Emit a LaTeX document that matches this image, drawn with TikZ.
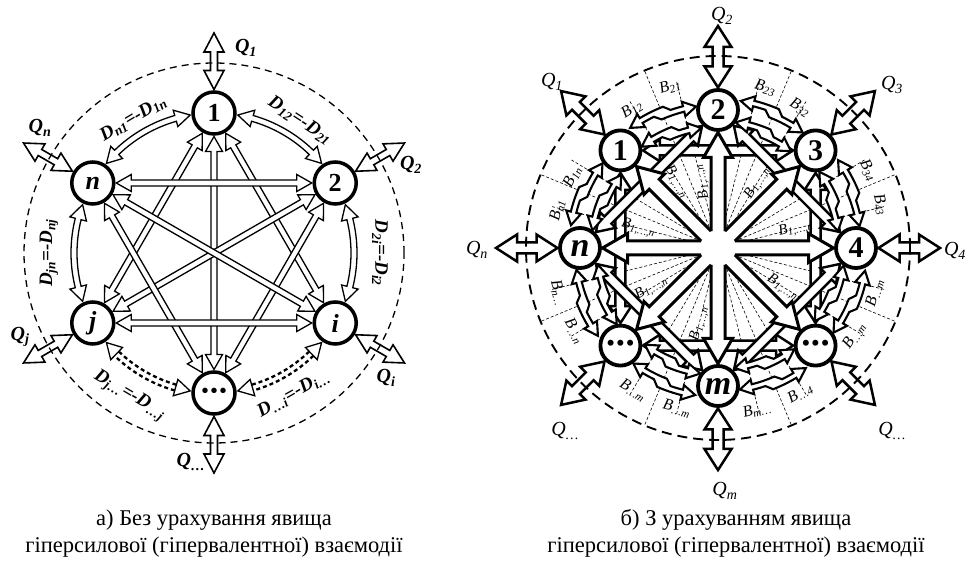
\documentclass[tikz,border=0pt]{standalone}
\usepackage{fontspec}
\setmainfont{Liberation Serif}
\usetikzlibrary{calc}
\pgfdeclarelayer{lzero}
\pgfdeclarelayer{lone}
\pgfdeclarelayer{ltwo}
\pgfdeclarelayer{lthree}
\pgfsetlayers{lzero,lone,ltwo,lthree,main}

\newcommand\Sb[1]{\textsubscript{#1}}
\newcommand\LDots{\textbullet\hspace{2pt}\textbullet\hspace{2pt}\textbullet}

% frame between two named points
\newcommand\ArrFrame[2]{%
  \path let \p1=(#1), \p2=(#2), \n1={atan2(\y2-\y1,\x2-\x1)}, \n2={veclen(\x2-\x1,\y2-\y1)} in
    \pgfextra{\xdef\HAx{\x1}\xdef\HAy{\y1}\xdef\HAang{\n1}\xdef\HAlen{\n2}};}

% double-headed straight hollow arrow
\newcommand\DArrow[8]{%
  \ArrFrame{#2}{#3}%
  \begin{scope}[shift={(\HAx,\HAy)}, rotate=\HAang]
    \pgfmathsetmacro\qa{#4}\pgfmathsetmacro\qb{\HAlen-(#5)}%
    \pgfmathsetmacro\qaa{\qa+#8}\pgfmathsetmacro\qbb{\qb-#8}%
    \draw[#1] (\qa pt,0pt) -- (\qaa pt,#7pt) -- (\qaa pt,#6pt) -- (\qbb pt,#6pt)
      -- (\qbb pt,#7pt) -- (\qb pt,0pt) -- (\qbb pt,-#7pt) -- (\qbb pt,-#6pt)
      -- (\qaa pt,-#6pt) -- (\qaa pt,-#7pt) -- cycle;
  \end{scope}}

% single-headed hollow arrow with open tail
\newcommand\SArrow[8]{%
  \ArrFrame{#2}{#3}%
  \begin{scope}[shift={(\HAx,\HAy)}, rotate=\HAang]
    \pgfmathsetmacro\qa{#4}\pgfmathsetmacro\qb{\HAlen-(#5)}%
    \pgfmathsetmacro\qbb{\qb-#8}%
    \draw[#1] (\qa pt,#6pt) -- (\qbb pt,#6pt) -- (\qbb pt,#7pt) -- (\qb pt,0pt)
      -- (\qbb pt,-#7pt) -- (\qbb pt,-#6pt) -- (\qa pt,-#6pt);
  \end{scope}}

% curved hollow double-headed arrow along a circle
\newcommand\CArrow[7]{%
  \pgfmathsetmacro\cs{sign(#4-(#3))}%
  \pgfmathsetmacro\cbA{#3+\cs*#7/#2*57.2958}%
  \pgfmathsetmacro\cbB{#4-\cs*#7/#2*57.2958}%
  \pgfmathsetmacro\cRo{#2+#5}\pgfmathsetmacro\cRi{#2-#5}%
  \pgfmathsetmacro\cHo{#2+#6}\pgfmathsetmacro\cHi{#2-#6}%
  \draw[#1] (#3:#2pt) -- (\cbA:\cHo pt) -- (\cbA:\cRo pt)
    arc[start angle=\cbA, end angle=\cbB, radius=\cRo pt]
    -- (\cbB:\cHo pt) -- (#4:#2pt) -- (\cbB:\cHi pt) -- (\cbB:\cRi pt)
    arc[start angle=\cbB, end angle=\cbA, radius=\cRi pt]
    -- (\cbA:\cHi pt) -- cycle;}

% same with dashed double shaft
\newcommand\DCArrow[7]{%
  \pgfmathsetmacro\cs{sign(#4-(#3))}%
  \pgfmathsetmacro\cbA{#3+\cs*#7/#2*57.2958}%
  \pgfmathsetmacro\cbB{#4-\cs*#7/#2*57.2958}%
  \pgfmathsetmacro\cRo{#2+#5}\pgfmathsetmacro\cRi{#2-#5}%
  \pgfmathsetmacro\cHo{#2+#6}\pgfmathsetmacro\cHi{#2-#6}%
  \draw[#1] (#3:#2pt) -- (\cbA:\cHo pt) -- (\cbA:\cHi pt) -- cycle;
  \draw[#1] (#4:#2pt) -- (\cbB:\cHo pt) -- (\cbB:\cHi pt) -- cycle;
  \draw[#1, fill=none, line width=2.3pt, dash pattern=on 4pt off 3pt]
    (\cbA:\cRo pt) arc[start angle=\cbA, end angle=\cbB, radius=\cRo pt];
  \draw[#1, fill=none, line width=2.3pt, dash pattern=on 4pt off 3pt]
    (\cbA:\cRi pt) arc[start angle=\cbA, end angle=\cbB, radius=\cRi pt];}

% curved double-headed arrow with a zigzag break in the middle
\newcommand\ZArrow[8]{%
  \pgfmathsetmacro\cs{sign(#4-(#3))}%
  \pgfmathsetmacro\zk{\cs*57.2958/#2}%
  \pgfmathsetmacro\cbA{#3+#7*\zk}%
  \pgfmathsetmacro\cbB{#4-#7*\zk}%
  \pgfmathsetmacro\zm{(#3+#4)/2}%
  \pgfmathsetmacro\zmP{\zm+#8*\zk}\pgfmathsetmacro\zmPP{\zm+3*#8*\zk}%
  \pgfmathsetmacro\zmM{\zm-#8*\zk}\pgfmathsetmacro\zmMM{\zm-3*#8*\zk}%
  \pgfmathsetmacro\rA{#2+#5}\pgfmathsetmacro\rB{#2-#5}%
  \pgfmathsetmacro\rAo{#2+2*#5}\pgfmathsetmacro\rBi{#2-2*#5}%
  \pgfmathsetmacro\rAh{\rA+#6}\pgfmathsetmacro\rAl{\rA-#6}%
  \pgfmathsetmacro\rBh{\rB+#6}\pgfmathsetmacro\rBl{\rB-#6}%
  \draw[#1] (#3:\rA pt) -- (\cbA:\rAh pt) -- (\cbA:\rAo pt)
    arc[start angle=\cbA, end angle=\zmP, radius=\rAo pt]
    -- (\zmPP:#2pt) arc[start angle=\zmPP, end angle=\cbB, radius=#2pt]
    -- (\cbB:\rBh pt) -- (#4:\rB pt) -- (\cbB:\rBl pt) -- (\cbB:\rBi pt)
    arc[start angle=\cbB, end angle=\zmM, radius=\rBi pt]
    -- (\zmMM:#2pt) arc[start angle=\zmMM, end angle=\cbA, radius=#2pt]
    -- (\cbA:\rAl pt) -- cycle;}

\tikzset{
 la/.style={draw, line width=1.3pt, fill=white, line join=miter},
 lqa/.style={draw, line width=1.6pt, fill=white, line join=miter},
 ln/.style={circle, draw, line width=3.5pt, minimum size=42pt, inner sep=0pt, fill=white,
   font=\fontsize{26}{26}\selectfont\bfseries},
 rn/.style={circle, draw, line width=3.8pt, minimum size=40pt, inner sep=0pt, fill=white,
   font=\fontsize{30}{30}\selectfont\bfseries},
 rarc/.style={draw, line width=2.1pt, fill=white, line join=miter},
 rsq/.style={draw, line width=2.4pt, fill=white, line join=miter},
 rhub/.style={draw, line width=3pt, fill=white, line join=miter},
 rqa/.style={draw, line width=2.5pt, fill=white, line join=miter},
 thind/.style={line width=0.6pt, dash pattern=on 3pt off 2pt},
 dlab/.style={font=\fontsize{19}{19}\selectfont\bfseries\itshape, inner sep=1pt},
 blab/.style={font=\fontsize{16}{16}\selectfont\itshape, inner sep=1pt},
 hlab/.style={font=\fontsize{15}{15}\selectfont\itshape, inner sep=1pt},
 lqlab/.style={font=\fontsize{20}{20}\selectfont\bfseries\itshape, inner sep=0pt},
 rqlab/.style={font=\fontsize{20}{20}\selectfont\itshape, inner sep=0pt},
 captext/.style={font=\fontsize{22.5}{27}\selectfont, inner sep=0pt},
}

\begin{document}
\begin{tikzpicture}[x=1pt,y=1pt]
\useasboundingbox (0,0) rectangle (966,564);

% ================= LEFT =================
\coordinate (LC) at (214,311);
\begin{scope}[shift={(214,311)}]
 \node[ln] (L1) at (90:140pt) {1};
 \node[ln] (L2) at (30:140pt) {2};
 \node[ln] (Li) at (-30:140pt) {\itshape i};
 \node[ln] (Ld) at (-90:140pt) {\fontsize{20}{20}\selectfont\LDots};
 \node[ln] (Lj) at (210:140pt) {\itshape j};
 \node[ln] (Ln) at (150:140pt) {\itshape n};
 \coordinate (Lq1) at (90:220pt);
 \coordinate (Lq2) at (30:220pt);
 \coordinate (Lqi) at (-30:220pt);
 \coordinate (Lqd) at (-90:220pt);
 \coordinate (Lqj) at (210:220pt);
 \coordinate (Lqn) at (150:220pt);
\end{scope}

\begin{pgfonlayer}{lone}
 \DArrow{la}{L1}{Ld}{23.5}{23.5}{3}{8.5}{15}
 \DArrow{la}{L1}{Lj}{23.5}{23.5}{3}{8.5}{15}
 \DArrow{la}{L1}{Li}{23.5}{23.5}{3}{8.5}{15}
 \DArrow{la}{L2}{Lj}{23.5}{23.5}{3}{8.5}{15}
 \DArrow{la}{L2}{Ld}{23.5}{23.5}{3}{8.5}{15}
 \DArrow{la}{Ln}{L2}{23.5}{23.5}{3}{8.5}{15}
 \DArrow{la}{Ln}{Li}{23.5}{23.5}{3}{8.5}{15}
 \DArrow{la}{Ln}{Ld}{23.5}{23.5}{3}{8.5}{15}
 \DArrow{la}{Lj}{Li}{23.5}{23.5}{3}{8.5}{15}
\end{pgfonlayer}

\begin{pgfonlayer}{ltwo}
\begin{scope}[shift={(214,311)}]
 \CArrow{la}{140}{80.2}{39.8}{3}{8.5}{15}
 \CArrow{la}{140}{20.2}{-20.2}{3}{8.5}{15}
 \CArrow{la}{140}{200.2}{159.8}{3}{8.5}{15}
 \CArrow{la}{140}{140.2}{99.8}{3}{8.5}{15}
 \DCArrow{la}{140}{-39.8}{-80.2}{3}{8.5}{15}
 \DCArrow{la}{140}{-99.8}{-140.2}{3}{8.5}{15}
\end{scope}
\end{pgfonlayer}

\DArrow{lqa}{L1}{Lq1}{23.5}{0}{3.5}{10}{19}
\DArrow{lqa}{L2}{Lq2}{23.5}{0}{3.5}{10}{19}
\DArrow{lqa}{Li}{Lqi}{23.5}{0}{3.5}{10}{19}
\DArrow{lqa}{Ld}{Lqd}{23.5}{0}{3.5}{10}{19}
\DArrow{lqa}{Lj}{Lqj}{23.5}{0}{3.5}{10}{19}
\DArrow{lqa}{Ln}{Lqn}{23.5}{0}{3.5}{10}{19}

\draw[line width=1.3pt, dash pattern=on 7pt off 5pt] (LC) circle[radius=190pt];

\begin{scope}[shift={(214,311)}]
 \node[dlab, rotate=-33] (d12) at (57:158pt) {D\Sb{12}=-D\Sb{21}};
 \node[dlab, rotate=31] (dn1) at (121:157pt) {D\Sb{n1}=-D\Sb{1n}};
 \node[dlab, rotate=-90] (d2i) at (0:166pt) {D\Sb{2i}=-D\Sb{i2}};
 \node[dlab, rotate=90] (djn) at (180:165pt) {D\Sb{jn}=-D\Sb{nj}};
 \node[dlab, rotate=29.4] (ddi) at (-60.6:162pt) {D\Sb{…i}=-D\Sb{i…}};
 \node[dlab, rotate=-30.7] (djd) at (-120.7:166pt) {D\Sb{j…}=-D\Sb{…j}};
\end{scope}

\node[lqlab] (tq1) at (246,516) {Q\Sb{1}};
\node[lqlab] (tqn) at (40,436) {Q\Sb{n}};
\node[lqlab] (tq2) at (411,399) {Q\Sb{2}};
\node[lqlab] (tqj) at (20,227) {Q\Sb{j}};
\node[lqlab] (tqi) at (386,186) {Q\Sb{i}};
\node[lqlab] (tqd) at (191,102) {Q\Sb{…}};

\node[captext] (capa1) at (214,44) {а) Без урахування явища};
\node[captext] (capa2) at (214,17) {гіперсилової (гіпервалентної) взаємодії};

% ================= RIGHT =================
\coordinate (RC) at (718,316);
\begin{scope}[shift={(718,316)}]
 \node[rn] (R2) at (90:138pt) {2};
 \node[rn] (R3) at (45:138pt) {3};
 \node[rn] (R4) at (0:138pt) {4};
 \node[rn] (Rr) at (-45:138pt) {\fontsize{22}{22}\selectfont\LDots};
 \node[rn] (Rm) at (-90:138pt) {\fontsize{34}{34}\selectfont\itshape m};
 \node[rn] (Rl) at (-135:138pt) {\fontsize{22}{22}\selectfont\LDots};
 \node[rn] (Rn) at (180:138pt) {\fontsize{34}{34}\selectfont\itshape n};
 \node[rn] (R1) at (135:138pt) {1};
 \coordinate (Rq2) at (90:222pt);
 \coordinate (Rq3) at (45:222pt);
 \coordinate (Rq4) at (0:222pt);
 \coordinate (Rqr) at (-45:222pt);
 \coordinate (Rqm) at (-90:222pt);
 \coordinate (Rql) at (-135:222pt);
 \coordinate (Rqn) at (180:222pt);
 \coordinate (Rq1) at (135:222pt);
\end{scope}

\begin{pgfonlayer}{lzero}
\begin{scope}[shift={(718,316)}]
 \foreach \a in {22.5,67.5,...,337.5} \draw[thind] (\a:18pt) -- (\a:192pt);
 \foreach \a in {0,45,...,315} {
   \draw[thind] ({\a+14}:18pt) -- ({\a+14}:172pt);
   \draw[thind] ({\a-14}:18pt) -- ({\a-14}:172pt);
 }
\end{scope}
\end{pgfonlayer}

\begin{pgfonlayer}{lone}
 \DArrow{rsq}{R1}{R3}{22.5}{22.5}{5}{11}{17}
 \DArrow{rsq}{R3}{Rr}{22.5}{22.5}{5}{11}{17}
 \DArrow{rsq}{Rr}{Rl}{22.5}{22.5}{5}{11}{17}
 \DArrow{rsq}{Rl}{R1}{22.5}{22.5}{5}{11}{17}
 \DArrow{rsq}{R2}{R4}{22.5}{22.5}{5}{11}{17}
 \DArrow{rsq}{R4}{Rm}{22.5}{22.5}{5}{11}{17}
 \DArrow{rsq}{Rm}{Rn}{22.5}{22.5}{5}{11}{17}
 \DArrow{rsq}{Rn}{R2}{22.5}{22.5}{5}{11}{17}
\end{pgfonlayer}

\begin{pgfonlayer}{ltwo}
 \SArrow{rhub}{RC}{R2}{16.9}{22.5}{7}{14.5}{25}
 \SArrow{rhub}{RC}{R3}{16.9}{22.5}{7}{14.5}{25}
 \SArrow{rhub}{RC}{R4}{16.9}{22.5}{7}{14.5}{25}
 \SArrow{rhub}{RC}{Rr}{16.9}{22.5}{7}{14.5}{25}
 \SArrow{rhub}{RC}{Rm}{16.9}{22.5}{7}{14.5}{25}
 \SArrow{rhub}{RC}{Rl}{16.9}{22.5}{7}{14.5}{25}
 \SArrow{rhub}{RC}{Rn}{16.9}{22.5}{7}{14.5}{25}
 \SArrow{rhub}{RC}{R1}{16.9}{22.5}{7}{14.5}{25}
\end{pgfonlayer}

\begin{pgfonlayer}{lthree}
\begin{scope}[shift={(718,316)}]
 \foreach \t in {180,135,90,45,0,-45,-90,-135} {
   \pgfmathsetmacro\ta{\t-8.8}\pgfmathsetmacro\tb{\t-45+8.8}
   \ZArrow{rarc}{146}{\ta}{\tb}{2.8}{7.5}{13}{3}
   \pgfmathsetmacro\tc{\t-8}\pgfmathsetmacro\td{\t-45+8}
   \ZArrow{rarc}{124}{\tc}{\td}{2.8}{7.5}{13}{3}
 }
\end{scope}
\end{pgfonlayer}

\DArrow{rqa}{R2}{Rq2}{22.5}{0}{5.5}{13.5}{21}
\DArrow{rqa}{R3}{Rq3}{22.5}{0}{5.5}{13.5}{21}
\DArrow{rqa}{R4}{Rq4}{22.5}{0}{5.5}{13.5}{21}
\DArrow{rqa}{Rr}{Rqr}{22.5}{0}{5.5}{13.5}{21}
\DArrow{rqa}{Rm}{Rqm}{22.5}{0}{5.5}{13.5}{21}
\DArrow{rqa}{Rl}{Rql}{22.5}{0}{5.5}{13.5}{21}
\DArrow{rqa}{Rn}{Rqn}{22.5}{0}{5.5}{13.5}{21}
\DArrow{rqa}{R1}{Rq1}{22.5}{0}{5.5}{13.5}{21}

\draw[line width=1.9pt, dash pattern=on 10pt off 6pt] (RC) circle[radius=192pt];

\begin{scope}[shift={(718,316)}]
 \node[blab, rotate=31.9] (b12) at (121.9:163pt) {B\Sb{12}};
 \node[blab, rotate=16.6] (b21) at (106.6:168pt) {B\Sb{21}};
 \node[blab, rotate=-16.4] (b23) at (73.6:167pt) {B\Sb{23}};
 \node[blab, rotate=-30.2] (b32) at (59.8:163pt) {B\Sb{32}};
 \node[blab, rotate=-62.5] (b34) at (27.5:169pt) {B\Sb{34}};
 \node[blab, rotate=-75.1] (b43) at (14.9:168pt) {B\Sb{43}};
 \node[blab, rotate=74] (b4m) at (-16:163pt) {B\Sb{…m}};
 \node[blab, rotate=57] (brm) at (-32.9:162pt) {B\Sb{…m}};
 \node[blab, rotate=29.5] (br4) at (-60.5:167pt) {B\Sb{…4}};
 \node[blab, rotate=13.5] (bm1) at (-76.5:167pt) {B\Sb{m…}};
 \node[blab, rotate=-14.4] (bm2) at (-104.4:166pt) {B\Sb{…m}};
 \node[blab, rotate=-30.8] (blm) at (-120.8:166pt) {B\Sb{…m}};
 \node[blab, rotate=-60] (bln) at (-150:166pt) {B\Sb{…n}};
 \node[blab, rotate=-74.4] (bnl) at (-164.4:166pt) {B\Sb{n…}};
 \node[blab, rotate=76.7] (bn1) at (166.7:165pt) {B\Sb{n1}};
 \node[blab, rotate=64] (b1n) at (154:162pt) {B\Sb{1n}};
 \node[hlab, rotate=104] (h2) at (104:68pt) {B\Sb{1,…,n}};
 \node[hlab, rotate=-58] (h1) at (122:78pt) {B\Sb{1,…,n}};
 \node[hlab, rotate=14] (h4) at (14:80pt) {B\Sb{1,…,n}};
 \node[hlab, rotate=-14] (hn) at (166:82pt) {B\Sb{1,…,n}};
 \node[hlab, rotate=59] (h3) at (59:76pt) {B\Sb{1,…,n}};
 \node[hlab, rotate=-31] (hr) at (-31:76pt) {B\Sb{1,…,n}};
 \node[hlab, rotate=76] (hm) at (-104:78pt) {B\Sb{1,…,n}};
 \node[hlab, rotate=31] (hl) at (-149:78pt) {B\Sb{1,…,n}};
\end{scope}

\node[rqlab] (sq2) at (722,548) {Q\Sb{2}};
\node[rqlab] (sq1) at (552,482) {Q\Sb{1}};
\node[rqlab] (sq3) at (892,479) {Q\Sb{3}};
\node[rqlab] (sqn) at (477,314) {Q\Sb{n}};
\node[rqlab] (sq4) at (955,313) {Q\Sb{4}};
\node[rqlab] (sql) at (565,133) {Q\Sb{…}};
\node[rqlab] (sqr) at (892,133) {Q\Sb{…}};
\node[rqlab] (sqm) at (725,73) {Q\Sb{m}};

\node[captext] (capb1) at (736,44) {б) З урахуванням явища};
\node[captext] (capb2) at (736,17) {гіперсилової (гіпервалентної) взаємодії};
\end{tikzpicture}
\end{document}
